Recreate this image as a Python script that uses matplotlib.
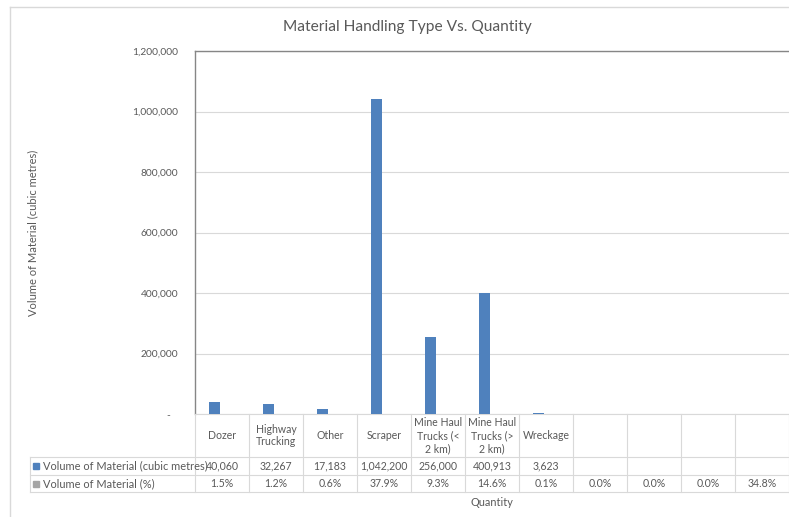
import matplotlib.pyplot as plt
import matplotlib.transforms as mtransforms
from matplotlib.ticker import FuncFormatter
import numpy as np

plt.rcParams['font.family'] = ['Lato', 'DejaVu Sans']

categories = ['Dozer', 'Highway\nTrucking', 'Other', 'Scraper', 'Mine Haul\nTrucks (<\n2 km)',
              'Mine Haul\nTrucks (>\n2 km)', 'Wreckage', '', '', '', '']
volume = [40060, 32267, 17183, 1042200, 256000, 400913, 3623, None, None, None, None]
percent = [0.015, 0.012, 0.006, 0.379, 0.093, 0.146, 0.001, 0.0, 0.0, 0.0, 0.348]
series_names = ['Volume of Material (cubic metres)', 'Volume of Material (%)']

blue = '#4F81BD'
grey = '#A5A5A5'
txt = '#595959'
grid = '#D9D9D9'

W, H = 789, 517
fig = plt.figure(figsize=(W / 100, H / 100), dpi=100)
ax = fig.add_axes([195 / W, 1 - 414 / H, 594 / W, 363 / H])

n = len(categories)
x = np.arange(n)
vol = np.array([v if v is not None else 0 for v in volume], dtype=float)
ax.bar(x - 0.14, vol, width=0.22, color=blue, zorder=3)
ax.bar(x + 0.14, percent, width=0.22, color=grey, zorder=3)

ax.set_xlim(-0.5, n - 0.5)
ax.set_ylim(0, 1200000)
ax.set_yticks(np.arange(0, 1200001, 200000))
ax.yaxis.set_major_formatter(FuncFormatter(lambda v, p: '-   ' if v == 0 else f'{int(v):,}'))
ax.tick_params(axis='y', length=0, pad=12, labelsize=7.4, labelcolor=txt)
ax.set_xticks([])
ax.grid(axis='y', color=grid, lw=0.8, zorder=0)
ax.set_axisbelow(True)
for s in ['top', 'left']:
    ax.spines[s].set_color('#868686')
    ax.spines[s].set_linewidth(1.0)
ax.spines['right'].set_visible(False)
ax.spines['bottom'].set_color(grid)

# chart area border
fig.add_artist(plt.Line2D([10 / W, 10 / W], [0, 1 - 7 / H], transform=fig.transFigure, color=grid, lw=1))
fig.add_artist(plt.Line2D([10 / W, 1], [1 - 7 / H, 1 - 7 / H], transform=fig.transFigure, color=grid, lw=1))

fig.text(407 / W, 1 - 27 / H, 'Material Handling Type Vs. Quantity', ha='center', va='center',
         fontsize=11.2, color=txt)
fig.text(33 / W, 1 - 233 / H, 'Volume of Material (cubic metres)', rotation=90, ha='center',
         va='center', fontsize=8, color=txt)
fig.text(492 / W, 1 - 503 / H, 'Quantity', ha='center', va='center', fontsize=7.8, color=txt)

# data table below the plot area
trans = mtransforms.blended_transform_factory(ax.transData, fig.transFigure)
fy = lambda py: 1 - py / H
y_head, y_r1, y_r2, y_end = 414, 457, 475, 492
for k in range(n + 1):
    fig.add_artist(plt.Line2D([k - 0.5, k - 0.5], [fy(y_head), fy(y_end)], transform=trans,
                              color=grid, lw=0.8))
for yy in [y_r1, y_r2, y_end]:
    fig.add_artist(plt.Line2D([30 / W, 1], [fy(yy), fy(yy)], transform=fig.transFigure,
                              color=grid, lw=0.8))
fig.add_artist(plt.Line2D([30 / W, 30 / W], [fy(y_r1), fy(y_end)], transform=fig.transFigure,
                          color=grid, lw=0.8))

for i in range(n):
    fig.text(x[i], fy((y_head + y_r1) / 2), categories[i], transform=trans, ha='center',
             va='center', fontsize=7.6, color=txt, linespacing=1.2)
    if volume[i] is not None:
        fig.text(x[i], fy((y_r1 + y_r2) / 2), f'{volume[i]:,}', transform=trans, ha='center',
                 va='center', fontsize=7.6, color=txt)
    fig.text(x[i], fy((y_r2 + y_end) / 2), f'{percent[i] * 100:.1f}%', transform=trans,
             ha='center', va='center', fontsize=7.6, color=txt)

for name, col, (a, b) in zip(series_names, [blue, grey], [(y_r1, y_r2), (y_r2, y_end)]):
    ym = (a + b) / 2
    fig.patches.append(plt.Rectangle((33 / W, fy(ym + 3)), 6 / W, 6 / H, transform=fig.transFigure,
                                     color=col, figure=fig))
    fig.text(43 / W, fy(ym), name, ha='left', va='center', fontsize=7.9, color=txt)

fig.savefig('out.png', dpi=100)
